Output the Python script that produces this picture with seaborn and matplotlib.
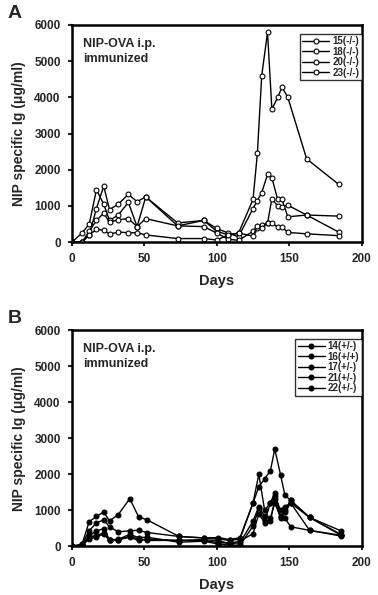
import numpy as np
import pandas as pd
import seaborn as sns
import matplotlib.pyplot as plt

# panel A: -/- mice
days_a = [0, 7, 12, 17, 22, 26, 32, 39, 45, 51, 73, 91, 100, 108, 115,
          125, 128, 131, 135, 138, 142, 145, 149, 162, 184]
mice_a = ["15(-/-)", "18(-/-)", "20(-/-)", "23(-/-)"]
ig_15 = [0, 250, 500, 1450, 1050, 600, 750, 1100, 430, 1250, 450, 600, 300, 200, 250,
         1180, 2450, 4600, 5800, 3670, 4000, 4280, 4000, 2300, 1600]
ig_18 = [0, 0, 200, 930, 1550, 900, 1050, 1320, 1120, 1250, 530, 600, 380, 250, 150,
         930, 1150, 1370, 1870, 1780, 1180, 1180, 700, 750, 720]
ig_20 = [0, 0, 300, 600, 800, 550, 620, 650, 430, 650, 450, 430, 250, 80, 50,
         300, 400, 470, 520, 1200, 1000, 980, 1020, 750, 280]
ig_23 = [0, 0, 200, 350, 330, 220, 280, 260, 260, 200, 100, 100, 60, 200, 250,
         170, 460, 380, 540, 520, 420, 420, 270, 230, 180]

# panel B: +/- and +/+ mice
days_b = [0, 7, 12, 17, 22, 26, 32, 40, 46, 52, 74, 91, 101, 109, 116,
          125, 129, 133, 137, 140, 144, 147, 151, 164, 186]
mice_b = ["14(+/-)", "16(+/+)", "17(+/-)", "21(+/-)", "22(+/-)"]
ig_14 = [0, 50, 680, 830, 950, 700, 880, 1320, 820, 730, 270, 230, 240, 185, 240,
         1200, 1650, 1870, 2100, 2700, 1980, 1420, 1270, 800, 420]
ig_16 = [0, 50, 430, 650, 730, 540, 400, 430, 440, 380, 270, 230, 200, 160, 200,
         1200, 2000, 1000, 1200, 1490, 830, 780, 540, 440, 300]
ig_17 = [0, 30, 300, 420, 490, 180, 180, 250, 160, 200, 160, 185, 150, 75, 93,
         700, 1100, 830, 780, 1200, 800, 1000, 1270, 800, 300]
ig_21 = [0, 30, 250, 300, 370, 180, 190, 330, 240, 250, 110, 140, 60, 30, 30,
         560, 1050, 700, 1200, 1400, 1000, 1100, 1200, 800, 320]
ig_22 = [0, 20, 200, 260, 330, 170, 170, 280, 200, 160, 160, 160, 100, 80, 140,
         350, 900, 650, 700, 1300, 780, 950, 1200, 440, 280]


def long_df(days, mice, series):
    rows = []
    for m, vals in zip(mice, series):
        for d, v in zip(days, vals):
            rows.append((m, d, v))
    return pd.DataFrame(rows, columns=["mouse", "day", "ig"])


df_a = long_df(days_a, mice_a, [ig_15, ig_18, ig_20, ig_23])
df_b = long_df(days_b, mice_b, [ig_14, ig_16, ig_17, ig_21, ig_22])

sns.set_style("ticks")
plt.rcParams["font.family"] = ["Liberation Sans", "DejaVu Sans"]
plt.rcParams["font.weight"] = "bold"

fig = plt.figure(figsize=(3.78, 5.95), dpi=100)
ax_a = fig.add_axes([0.19, 0.593, 0.767, 0.365])
ax_b = fig.add_axes([0.19, 0.082, 0.767, 0.363])


def draw(ax, df, mice, fill, letter):
    sns.lineplot(data=df, x="day", y="ig", hue="mouse", hue_order=mice,
                 palette=["black"] * len(mice), estimator=None, sort=False,
                 marker="o", markersize=3.5, markerfacecolor=fill,
                 markeredgecolor="black", markeredgewidth=0.8,
                 linewidth=1.0, ax=ax)
    ax.set_xlim(0, 200)
    ax.set_ylim(0, 6000)
    ax.set_xticks([0, 50, 100, 150, 200])
    ax.set_yticks(range(0, 6001, 1000))
    ax.tick_params(labelsize=8.5, width=1.5, length=3, direction="out")
    for lab in ax.get_xticklabels() + ax.get_yticklabels():
        lab.set_fontweight("bold")
    ax.tick_params(axis="x", pad=5)
    ax.tick_params(axis="y", pad=5)
    for s in ax.spines.values():
        s.set_linewidth(1.8)
        s.set_color("black")
    ax.set_xlabel("Days", fontsize=10.5, fontweight="bold", labelpad=6)
    ax.set_ylabel("NIP specific Ig (\u03bcg/ml)", fontsize=10, fontweight="bold", labelpad=6)
    ax.text(0.04, 0.94, "NIP-OVA i.p.\nimmunized", transform=ax.transAxes,
            fontsize=9, fontweight="bold", va="top", linespacing=1.3)
    handles, labels = ax.get_legend_handles_labels()
    leg = ax.legend(handles, labels, loc="upper right", bbox_to_anchor=(1.0, 0.96),
                    fontsize=7, frameon=True, fancybox=False, handlelength=2.8,
                    handletextpad=0.3, borderpad=0.25, labelspacing=0.05,
                    borderaxespad=0.0)
    leg.get_frame().set_edgecolor("black")
    leg.get_frame().set_linewidth(1.0)
    for t in leg.get_texts():
        t.set_fontweight("bold")
    fig.text(0.02, ax.get_position().y1 + 0.012, letter, fontsize=14, fontweight="bold")


draw(ax_a, df_a, mice_a, "white", "A")
draw(ax_b, df_b, mice_b, "black", "B")

fig.savefig("out.png", dpi=100)
